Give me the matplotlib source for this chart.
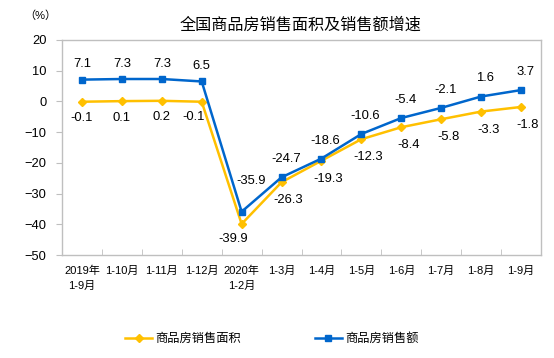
import matplotlib.pyplot as plt
import numpy as np

# === DATA ===
CATEGORIES = ['2019年\n1-9月', '1-10月', '1-11月', '1-12月', '2020年\n1-2月', '1-3月',
              '1-4月', '1-5月', '1-6月', '1-7月', '1-8月', '1-9月']
AREA_GROWTH  = [-0.1, 0.1, 0.2, -0.1, -39.9, -26.3, -19.3, -12.3, -8.4, -5.8, -3.3, -1.8]
SALES_GROWTH = [7.1, 7.3, 7.3, 6.5, -35.9, -24.7, -18.6, -10.6, -5.4, -2.1, 1.6, 3.7]
AREA_NAME  = '商品房销售面积'
SALES_NAME = '商品房销售额'
TITLE = '全国商品房销售面积及销售额增速'

# === STYLE ===
YELLOW = '#FFC000'
BLUE   = '#0066CC'
GRAY   = '#BFBFBF'
TEXT   = '#000000'
FONTS  = ['Liberation Sans', 'Noto Sans CJK SC', 'DejaVu Sans']
plt.rcParams['font.family'] = FONTS

fig = plt.figure(figsize=(5.54, 3.58), dpi=100)
ax = fig.add_axes([62 / 554, 1 - 255 / 358, (541 - 62) / 554, (255 - 40) / 358])

x = np.arange(len(CATEGORIES))
ax.plot(x, AREA_GROWTH, color=YELLOW, lw=1.8, marker='D', ms=4.5,
        markeredgecolor=YELLOW, label=AREA_NAME, zorder=3)
ax.plot(x, SALES_GROWTH, color=BLUE, lw=1.8, marker='s', ms=4.5,
        markeredgecolor=BLUE, label=SALES_NAME, zorder=4)

# data labels: blue above, yellow below (a few nudged like the original)
for i, v in enumerate(SALES_GROWTH):
    dx, dy = 0, 11
    if i == 4:
        dx, dy = 7, 22
    elif i >= 5:
        dx, dy = 3, 13
    ax.annotate(f'{v:.1f}', (x[i], v), xytext=(dx, dy), textcoords='offset points',
                ha='center', va='center', fontsize=9.4, color=TEXT)
for i, v in enumerate(AREA_GROWTH):
    dx, dy = 0, -12
    if i == 3:
        dx, dy = -6, -11
    elif i == 4:
        dx, dy = -6, -11
    elif i >= 5:
        dx, dy = 5, -13
    ax.annotate(f'{v:.1f}', (x[i], v), xytext=(dx, dy), textcoords='offset points',
                ha='center', va='center', fontsize=9.4, color=TEXT)

ax.set_xlim(-0.5, len(CATEGORIES) - 0.5)
ax.set_ylim(-50, 20)
ax.set_yticks(np.arange(-50, 21, 10))
ax.set_xticks(x)
ax.set_xticklabels(CATEGORIES, fontsize=8, linespacing=1.6)
ax.set_xticks(np.arange(0.5, len(CATEGORIES) - 1, 1), minor=True)
ax.tick_params(axis='x', which='major', length=0, pad=8, colors=TEXT)
ax.tick_params(axis='x', which='minor', length=4, direction='in', color=GRAY)
ax.tick_params(axis='y', length=4, direction='out', color=GRAY, labelsize=9.3, pad=7)
for s in ax.spines.values():
    s.set_color(GRAY)
    s.set_linewidth(1.0)

fig.text(301 / 554, 1 - 25 / 358, TITLE, ha='center', va='center', fontsize=11.6, color=TEXT)
fig.text(40 / 554, 1 - 16 / 358, '（%）', ha='center', va='center', fontsize=8, color=TEXT)

fig.legend(loc='center', bbox_to_anchor=(272 / 554, 1 - 339 / 358), ncol=2, frameon=False,
           fontsize=8.8, handlelength=2.2, columnspacing=6.0, handletextpad=0.3)

plt.savefig('out.png', dpi=100)
plt.close()
